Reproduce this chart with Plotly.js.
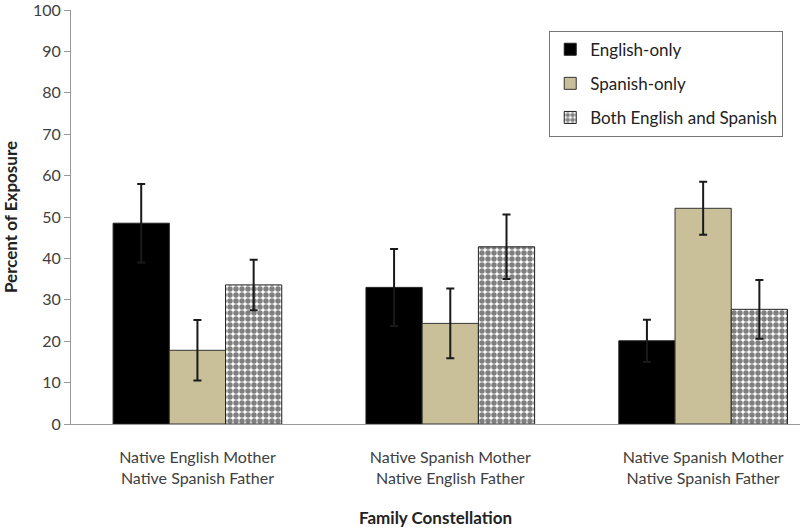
<!DOCTYPE html>
<html><head><meta charset="utf-8">
<script src="https://cdn.plot.ly/plotly-3.0.1.min.js"></script>
<style>html,body{margin:0;padding:0;background:#fff}#chart{width:800px;height:530px}</style>
</head><body><div id="chart"></div>
<script>
const categories = ["Native English Mother<br>Native Spanish Father", "Native Spanish Mother<br>Native English Father", "Native Spanish Mother<br>Native Spanish Father"];
const seriesNames = ["English-only", "Spanish-only", "Both English and Spanish"];
const englishOnly = [48.5, 33.0, 20.1];
const englishErr = [9.5, 9.3, 5.1];
const spanishOnly = [17.8, 24.3, 52.1];
const spanishErr = [7.3, 8.4, 6.4];
const bothLang = [33.6, 42.8, 27.7];
const bothErr = [6.1, 7.8, 7.1];
const yTicks = [0,10,20,30,40,50,60,70,80,90,100];

const xpos = categories.map((c,i)=>i);
const errStyle = (arr)=>({type:'data', array:arr, visible:true, color:'#1a1a1a', thickness:2, width:4});
const font = "Lato, 'Open Sans', sans-serif";

const traces = [
  {type:'bar', name:seriesNames[0], x:xpos, y:englishOnly, error_y:errStyle(englishErr),
   marker:{color:'#000000', line:{color:'#222', width:1}}, legendgroup:'a'},
  {type:'bar', name:seriesNames[1], x:xpos, y:spanishOnly, error_y:errStyle(spanishErr),
   marker:{color:'#c9c09a', line:{color:'#333', width:1}}, legendgroup:'b'},
  {type:'bar', name:seriesNames[2], x:xpos, y:bothLang, error_y:errStyle(bothErr),
   marker:{color:'#000000', line:{color:'#222', width:1},
     pattern:{shape:'.', bgcolor:'#ffffff', fgcolor:'#000000', size:6, solidity:0.65, fillmode:'overlay'}}, legendgroup:'c'}
];

const layout = {
  width:800, height:530,
  margin:{l:71, r:0, t:10, b:106},
  paper_bgcolor:'#fff', plot_bgcolor:'#fff',
  barmode:'group', bargap:0.333, bargroupgap:0,
  font:{family:font, color:'#404040'},
  xaxis:{range:[-0.5, 2.383], tickvals:xpos, ticktext:categories, showgrid:false, zeroline:false,
    showline:true, linecolor:'#999', linewidth:1, ticks:'outside', ticklen:19, tickcolor:'rgba(0,0,0,0)',
    tickfont:{size:16, color:'#404040'},
    title:{text:'<b>Family Constellation</b>', font:{size:17, color:'#222'}, standoff:26}},
  yaxis:{range:[0,100.001], tickvals:yTicks, showgrid:false, zeroline:false, showline:true, linecolor:'#999', linewidth:1,
    ticks:'outside', ticklen:6, tickcolor:'#999', tickfont:{size:16, color:'#404040'}, ticklabeloverflow:'allow',
    title:{text:'<b>Percent of Exposure</b>', font:{size:17, color:'#222'}, standoff:12}},
  legend:{x:0.656, y:0.95, xanchor:'left', yanchor:'top', bordercolor:'#777', borderwidth:1,
    bgcolor:'#fff', font:{size:17, color:'#222'}, tracegroupgap:9, traceorder:'grouped'},
  showlegend:true
};
Plotly.newPlot('chart', traces, layout, {displayModeBar:false, staticPlot:true});
</script></body></html>
